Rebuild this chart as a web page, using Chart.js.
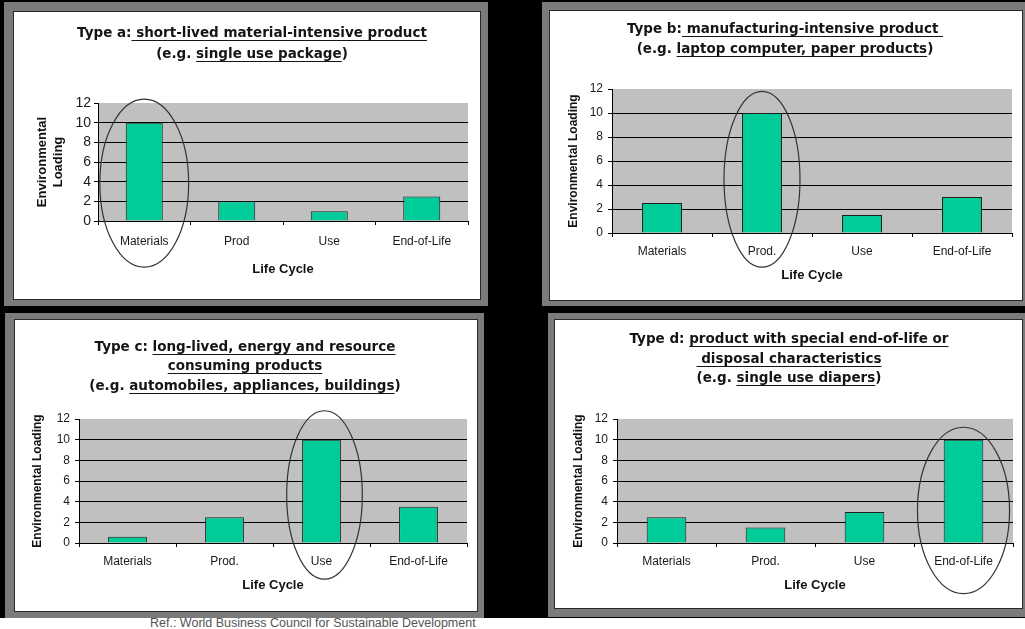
<!DOCTYPE html>
<html><head><meta charset="utf-8">
<script src="https://cdn.jsdelivr.net/npm/chart.js@4.4.1/dist/chart.umd.min.js"></script>
<style>
html,body{margin:0;padding:0;width:1025px;height:629px;overflow:hidden;background:#fff;}
#bg{position:absolute;left:0;top:0;width:1025px;height:618px;background:#000;}
.frame{position:absolute;background:#7b7b7b;}
.white{position:absolute;background:#fff;border:1px solid #2a2a2a;box-sizing:border-box;}
canvas{position:absolute;}
.tl{position:absolute;height:20px;line-height:20px;font-family:"DejaVu Sans",sans-serif;font-weight:bold;font-size:13.5px;color:#151515;white-space:nowrap;transform:translateX(-50%);}
.tl u{text-decoration-thickness:1px;text-underline-offset:3px;}
#ref{position:absolute;left:150px;top:616px;font-family:"Liberation Sans",Arial,sans-serif;font-size:12.5px;color:#555;white-space:nowrap;}
</style>
</head><body>
<div id="bg"></div>
<div id="root"></div>
<div id="ref">Ref.: World Business Council for Sustainable Development</div>
<script>
// ---- data ----
const categoriesA = ["Materials", "Prod", "Use", "End-of-Life"];
const categoriesB = ["Materials", "Prod.", "Use", "End-of-Life"];
const categoriesC = ["Materials", "Prod.", "Use", "End-of-Life"];
const categoriesD = ["Materials", "Prod.", "Use", "End-of-Life"];
const valuesA = [10, 2, 1, 2.5];
const valuesB = [2.5, 10, 1.5, 3];
const valuesC = [0.6, 2.5, 10, 3.5];
const valuesD = [2.5, 1.5, 3, 10];
const yTickValues = [0, 2, 4, 6, 8, 10, 12];
const highlightA = 0, highlightB = 1, highlightC = 2, highlightD = 3;
const yTitleA = ["Environmental", "Loading"];
const yTitle = "Environmental Loading";
const xTitle = "Life Cycle";
const titleA = [[["Type a:", ""], [" short-lived material-intensive product", "u"]], [["(e.g. ", ""], ["single use package", "u"], [")", ""]]];
const titleB = [[["Type b:", ""], [" manufacturing-intensive product ", "u"]], [["(e.g. ", ""], ["laptop computer, paper products", "u"], [")", ""]]];
const titleC = [[["Type c: ", ""], ["long-lived, energy and resource", "u"]], [["consuming products", "u"]], [["(e.g. ", ""], ["automobiles, appliances, buildings", "u"], [")", ""]]];
const titleD = [[["Type d: ", ""], ["product with special end-of-life or", "u"]], [[" disposal characteristics", "u"]], [["(e.g. ", ""], ["single use diapers", "u"], [")", ""]]];

// ---- plugins ----
const plotBg = {
  id: 'plotBg',
  beforeDraw(chart, args, o) {
    const a = chart.chartArea, ctx = chart.ctx;
    ctx.save(); ctx.fillStyle = o.color || '#c0c0c0';
    ctx.fillRect(a.left, a.top, a.right - a.left, a.bottom - a.top);
    ctx.restore();
  }
};
const ellipsePlugin = {
  id: 'ellipse',
  afterDraw(chart, args, o) {
    const xs = chart.scales.x, ys = chart.scales.y, ctx = chart.ctx;
    const cx = xs.getPixelForValue(o.index) + (o.dx || 0);
    const catW = (xs.right - xs.left) / chart.data.labels.length;
    const t = ys.getPixelForValue(o.top), b = ys.getPixelForValue(o.bottom);
    ctx.save();
    ctx.beginPath();
    ctx.ellipse(cx, (t + b) / 2, catW * o.rx, (b - t) / 2, 0, 0, Math.PI * 2);
    ctx.strokeStyle = '#333'; ctx.lineWidth = 1.2; ctx.stroke();
    ctx.restore();
  }
};

const root = document.getElementById('root');
function addDiv(cls, l, t, w, h) {
  const d = document.createElement('div'); d.className = cls;
  d.style.left = l + 'px'; d.style.top = t + 'px'; d.style.width = w + 'px'; d.style.height = h + 'px';
  root.appendChild(d); return d;
}
function addTitle(lines, cx, ys) {
  lines.forEach((segs, i) => {
    const d = document.createElement('div'); d.className = 'tl';
    d.style.left = cx + 'px'; d.style.top = (ys[i] - 10) + 'px';
    segs.forEach(s => {
      const e = document.createElement(s[1] === 'u' ? 'u' : 'span');
      e.textContent = s[0].replace(/ /g, '\u00a0'); d.appendChild(e);
    });
    root.appendChild(d);
  });
}

function build(p) {
  addDiv('frame', p.frame[0], p.frame[1], p.frame[2], p.frame[3]);
  addDiv('white', p.cl - 1, p.ct - 1, p.w + 2, p.h + 2);
  const c = document.createElement('canvas');
  c.width = p.w; c.height = p.h; c.style.left = p.cl + 'px'; c.style.top = p.ct + 'px';
  root.appendChild(c);
  addTitle(p.title, p.tx, p.ty);
  new Chart(c, {
    type: 'bar',
    data: { labels: p.labels, datasets: [{ data: p.values, backgroundColor: '#00CC99', borderColor: '#1e1e1e', borderWidth: 1, barPercentage: 0.4, categoryPercentage: 1 }] },
    options: {
      responsive: false, animation: false, devicePixelRatio: 1,
      layout: { padding: { top: p.pt - p.ct, right: p.cl + p.w - p.pr, left: 0, bottom: 0 } },
      plugins: {
        legend: { display: false }, tooltip: { enabled: false },
        plotBg: { color: '#c0c0c0' },
        ellipse: p.ellipse
      },
      scales: {
        x: {
          afterFit: s => { s.height = p.ct + p.h - p.pb; },
          grid: { offset: true, drawOnChartArea: false, color: '#000', tickLength: 4 },
          border: { color: '#000', width: 1 },
          ticks: { color: '#1a1a1a', padding: p.xPad, autoSkip: false, maxRotation: 0, font: { family: 'Liberation Sans', size: p.xFont } },
          title: { display: true, text: xTitle, color: '#111', font: { family: 'Liberation Sans', weight: 'bold', size: 13, lineHeight: '16px' }, padding: { top: 0, bottom: p.xtPad } }
        },
        y: {
          min: 0, max: 12,
          afterBuildTicks: s => { s.ticks = yTickValues.map(v => ({ value: v })); },
          afterFit: s => { s.width = p.pl - p.cl; },
          grid: { color: ctx => (ctx.tick && ctx.tick.value === 12) ? 'rgba(0,0,0,0)' : '#000', tickColor: '#000', tickLength: 4 },
          border: { color: '#000', width: 1 },
          ticks: { color: '#1a1a1a', padding: p.yPad, autoSkip: false, font: { family: 'Liberation Sans', size: p.yFont, lineHeight: 1 } },
          title: { display: true, text: p.yTitle, color: '#111', font: { family: 'Liberation Sans', weight: 'bold', size: p.ytSize, lineHeight: '16px' }, padding: { top: p.ytPad, bottom: 0 } }
        }
      }
    },
    plugins: [plotBg, ellipsePlugin]
  });
}

build({ frame: [4, 2, 484, 304], cl: 14, ct: 12, w: 466, h: 287, pl: 98, pt: 103, pr: 468, pb: 221,
  labels: categoriesA, values: valuesA, yTitle: yTitleA, ytSize: 13, ytPad: 20, xtPad: 22, xPad: 9, yPad: 3, xFont: 12, yFont: 14,
  title: titleA, tx: 252, ty: [32, 53],
  ellipse: { index: highlightA, top: 12.4, bottom: -4.7, rx: 0.48 } });
build({ frame: [542, 2, 483, 304], cl: 550, ct: 11, w: 472, h: 289, pl: 612, pt: 89, pr: 1012, pb: 233,
  labels: categoriesB, values: valuesB, yTitle: yTitle, ytSize: 12, ytPad: 16, xtPad: 17, xPad: 7, yPad: 5, xFont: 12, yFont: 12,
  title: titleB, tx: 785, ty: [28, 48],
  ellipse: { index: highlightB, top: 11.8, bottom: -2.85, rx: 0.38 } });
build({ frame: [5, 313, 479, 305], cl: 15, ct: 320, w: 462, h: 291, pl: 79, pt: 419, pr: 467, pb: 543,
  labels: categoriesC, values: valuesC, yTitle: yTitle, ytSize: 12, ytPad: 15, xtPad: 18, xPad: 7, yPad: 5, xFont: 12, yFont: 12,
  title: titleC, tx: 245, ty: [346, 365, 385],
  ellipse: { index: highlightC, top: 12.8, bottom: -3.5, rx: 0.39, dx: 3 } });
build({ frame: [548, 313, 477, 304], cl: 555, ct: 320, w: 467, h: 288, pl: 617, pt: 419, pr: 1013, pb: 543,
  labels: categoriesD, values: valuesD, yTitle: yTitle, ytSize: 12, ytPad: 16, xtPad: 15, xPad: 7, yPad: 5, xFont: 12, yFont: 12,
  title: titleD, tx: 789, ty: [338, 358, 377],
  ellipse: { index: highlightD, top: 11.2, bottom: -4.9, rx: 0.465 } });
</script>
</body></html>
